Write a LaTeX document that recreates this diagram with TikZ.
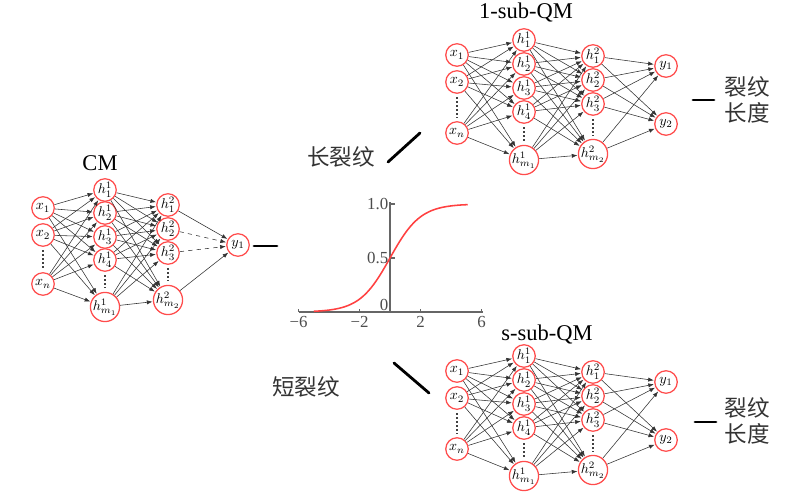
\documentclass[tikz,border=0pt]{standalone}
\usepackage{fontspec}
\setmainfont{Liberation Serif}
\newfontfamily\cjk{Noto Sans CJK SC}
\usetikzlibrary{arrows.meta}

\tikzset{
  neuron/.style={circle, draw=red!70, line width=0.9pt, minimum size=16pt, inner sep=0pt,
    fill=white, font=\fontsize{10}{10}\selectfont},
  wire/.style={draw=black!80, line width=0.4pt, -{Latex[length=4pt,width=3pt]}, shorten >=0.3pt},
  vdots/.style={draw=black!75, line width=1.4pt, dash pattern=on 1.4pt off 1.4pt,
    shorten >=2.5pt, shorten <=2.5pt},
  stroke/.style={line width=2pt, line cap=round},
  title/.style={font=\fontsize{16}{16}\selectfont},
  zh/.style={font=\cjk\fontsize{16}{19}\selectfont, align=center, text=black!80},
  axis/.style={draw=black!60, line width=0.8pt},
  ticklab/.style={font=\fontsize{12}{12}\selectfont, text=black!70, inner sep=1pt},
}

% one sub-QM network, #1 = name prefix, #2 = vertical shift (px)
\newcommand{\subnet}[2]{%
\begin{scope}[shift={(0,#2)}]
  \node[neuron] (#1x1) at (457,55) {$x_1$};
  \node[neuron] (#1x2) at (457,82) {$x_2$};
  \node[neuron] (#1xn) at (457,133) {$x_n$};
  \node[neuron] (#1a1) at (524,40) {$h^1_1$};
  \node[neuron] (#1a2) at (524,64) {$h^1_2$};
  \node[neuron] (#1a3) at (524,88) {$h^1_3$};
  \node[neuron] (#1a4) at (524,112) {$h^1_4$};
  \node[neuron] (#1am) at (524,160) {$h^1_{m_1}$};
  \node[neuron] (#1b1) at (593,56) {$h^2_1$};
  \node[neuron] (#1b2) at (593,80) {$h^2_2$};
  \node[neuron] (#1b3) at (593,104) {$h^2_3$};
  \node[neuron] (#1bm) at (593,154) {$h^2_{m_2}$};
  \node[neuron] (#1y1) at (666,66) {$y_1$};
  \node[neuron] (#1y2) at (666,124) {$y_2$};
  \foreach \i in {x1,x2,xn}
    \foreach \j in {a1,a2,a3,a4,am}
      \draw[wire] (#1\i) -- (#1\j);
  \foreach \i in {a1,a2,a3,a4,am}
    \foreach \j in {b1,b2,b3,bm}
      \draw[wire] (#1\i) -- (#1\j);
  \foreach \i in {b1,b2,b3,bm}
    \foreach \j in {y1,y2}
      \draw[wire] (#1\i) -- (#1\j);
  \draw[vdots] (#1x2) -- (#1xn);
  \draw[vdots] (#1a4) -- (#1am);
  \draw[vdots] (#1b3) -- (#1bm);
\end{scope}}

\begin{document}
\begin{tikzpicture}[x=0.025cm, y=-0.025cm]
\useasboundingbox (0,0) rectangle (794,504);

% CM
\node[title] (cm) at (100,163) {CM};
\node[neuron] (x1) at (43,208) {$x_1$};
\node[neuron] (x2) at (43,235) {$x_2$};
\node[neuron] (xn) at (43,284) {$x_n$};
\node[neuron] (a1) at (105,190) {$h^1_1$};
\node[neuron] (a2) at (105,213) {$h^1_2$};
\node[neuron] (a3) at (105,237) {$h^1_3$};
\node[neuron] (a4) at (105,260) {$h^1_4$};
\node[neuron] (am) at (105,307) {$h^1_{m_1}$};
\node[neuron] (b1) at (168,205) {$h^2_1$};
\node[neuron] (b2) at (168,229) {$h^2_2$};
\node[neuron] (b3) at (168,253) {$h^2_3$};
\node[neuron] (bm) at (168,300) {$h^2_{m_2}$};
\node[neuron] (y1) at (238,245) {$y_1$};
\foreach \i in {x1,x2,xn}
  \foreach \j in {a1,a2,a3,a4,am}
    \draw[wire] (\i) -- (\j);
\foreach \i in {a1,a2,a3,a4,am}
  \foreach \j in {b1,b2,b3,bm}
    \draw[wire] (\i) -- (\j);
\draw[wire] (b1) -- (y1);
\draw[wire, dashed] (b2) -- (y1);
\draw[wire, dashed] (b3) -- (y1);
\draw[wire] (bm) -- (y1);
\draw[vdots] (x2) -- (xn);
\draw[vdots] (a4) -- (am);
\draw[vdots] (b3) -- (bm);
\coordinate (c1) at (254,246);
\coordinate (c2) at (277,246);
\draw[stroke] (c1) -- (c2);

% sigmoid
\begin{scope}[shift={(390,312)}, x=0.381cm, y=2.7cm]
  \draw[axis] (-6,0) -- (6.1,0);
  \draw[axis] (0,0) -- (0,1.02);
  \foreach \t in {-6,-2,2,6}
    \draw[axis] (\t,0) -- (\t,0.03);
  \draw[axis] (0,1) -- (0.3,1);
  \draw[axis] (0,0.5) -- (0.3,0.5);
  \draw[red!75, line width=1.1pt, domain=-5:5.1, samples=60] plot (\x,{1/(1+exp(-\x))});
  \node[ticklab, anchor=east] (l10) at (0,1) {1.0};
  \node[ticklab, anchor=east] (l05) at (0,0.5) {0.5};
  \node[ticklab, anchor=south east] (l0) at (0,0) {0};
  \node[ticklab, anchor=north] (lm6) at (-6,-0.02) {−6};
  \node[ticklab, anchor=north] (lm2) at (-2,-0.02) {−2};
  \node[ticklab, anchor=north] (lp2) at (2,-0.02) {2};
  \node[ticklab, anchor=north] (lp6) at (6,-0.02) {6};
\end{scope}

% long crack branch
\node[zh] (long) at (341,157) {长裂纹};
\coordinate (u1) at (388,162);
\coordinate (u2) at (420,133);
\draw[stroke] (u1) -- (u2);
\node[title] (qm1) at (526,13) {1-sub-QM};
\subnet{p}{0}
\coordinate (d1) at (693,100);
\coordinate (d2) at (714,100);
\draw[stroke] (d1) -- (d2);
\node[zh] (out1) at (747,100) {裂纹\\长度};

% short crack branch
\node[zh] (short) at (306,387) {短裂纹};
\coordinate (v1) at (394,363);
\coordinate (v2) at (429,393);
\draw[stroke] (v1) -- (v2);
\node[title] (qms) at (547,335) {s-sub-QM};
\subnet{q}{316}
\coordinate (e1) at (695,422);
\coordinate (e2) at (716,422);
\draw[stroke] (e1) -- (e2);
\node[zh] (outs) at (747,421) {裂纹\\长度};
\end{tikzpicture}
\end{document}
